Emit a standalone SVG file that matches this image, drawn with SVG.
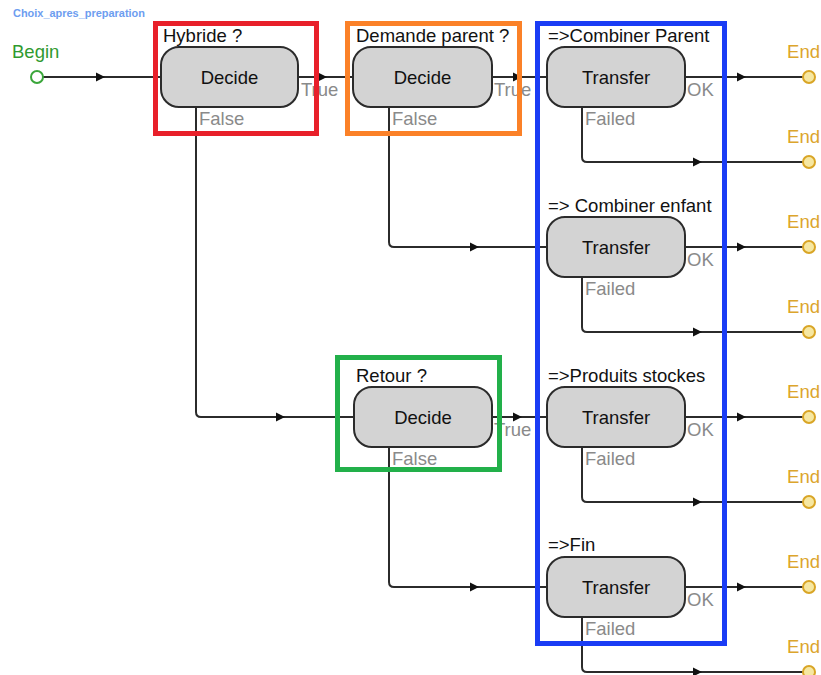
<svg xmlns="http://www.w3.org/2000/svg" width="821" height="675" viewBox="0 0 821 675">
<style>
text{font-family:"Liberation Sans",Arial,sans-serif}
.node{fill:#d3d3d3;stroke:#2b2b2b;stroke-width:2}
.nt{font-size:18.5px;fill:#111;text-anchor:middle}
.cap{font-size:18.5px;fill:#111}
.lbl{font-size:18.5px;fill:#8a8a8a}
.wire{fill:none;stroke:#2b2b2b;stroke-width:2}
.endc{fill:#f6e7a2;stroke:#d9a526;stroke-width:2}
.endt{font-size:18.5px;fill:#dca52c;text-anchor:end}
.box{fill:none;stroke-width:5}
</style>
<defs>
<path id="ah" d="M-9,-4.5 L0,0 L-9,4.5 z" fill="#111"/>
</defs>
<rect width="821" height="675" fill="#fff"/>
<text x="13" y="17" font-size="10.5" font-weight="bold" fill="#6d9df0" textLength="132" lengthAdjust="spacingAndGlyphs">Choix_apres_preparation</text>

<g id="connectors">
<path class="wire" d="M43,77 H161"/>
<path class="wire" d="M298,77 H353"/>
<path class="wire" d="M492,77 H547"/>
<path class="wire" d="M685,77 H803"/>
<path class="wire" d="M582,107 V157 Q582,162 587,162 H803"/>
<path class="wire" d="M389,107 V242 Q389,247 394,247 H547"/>
<path class="wire" d="M685,247 H803"/>
<path class="wire" d="M582,277 V327 Q582,332 587,332 H803"/>
<path class="wire" d="M196,107 V412 Q196,417 201,417 H354"/>
<path class="wire" d="M492,417 H547"/>
<path class="wire" d="M685,417 H803"/>
<path class="wire" d="M582,447 V497 Q582,502 587,502 H803"/>
<path class="wire" d="M389,447 V582 Q389,587 394,587 H547"/>
<path class="wire" d="M685,587 H803"/>
<path class="wire" d="M582,617 V667 Q582,672 587,672 H803"/>
<use href="#ah" x="105" y="77"/>
<use href="#ah" x="327" y="77"/>
<use href="#ah" x="522" y="77"/>
<use href="#ah" x="746" y="77"/>
<use href="#ah" x="702" y="162"/>
<use href="#ah" x="479" y="247"/>
<use href="#ah" x="746" y="247"/>
<use href="#ah" x="702" y="332"/>
<use href="#ah" x="285" y="417"/>
<use href="#ah" x="522" y="417"/>
<use href="#ah" x="746" y="417"/>
<use href="#ah" x="702" y="502"/>
<use href="#ah" x="479" y="587"/>
<use href="#ah" x="746" y="587"/>
<use href="#ah" x="702" y="672"/>
</g>

<g id="begin">
<text x="12" y="58" font-size="18.5" fill="#2f9a2f">Begin</text>
<circle cx="37" cy="77" r="6" fill="#fff" stroke="#3aa63a" stroke-width="2"/>
</g>

<g id="decide-hybride">
<text class="cap" x="163" y="42">Hybride ?</text>
<rect class="node" x="161" y="47" width="137" height="60" rx="18"/>
<text class="nt" x="229.5" y="84">Decide</text>
<text class="lbl" x="301" y="96">True</text>
<text class="lbl" x="199" y="125">False</text>
</g>

<g id="decide-demande">
<text class="cap" x="356" y="42">Demande parent ?</text>
<rect class="node" x="353" y="47" width="139" height="60" rx="18"/>
<text class="nt" x="422.5" y="84">Decide</text>
<text class="lbl" x="494" y="96">True</text>
<text class="lbl" x="392" y="125">False</text>
</g>

<g id="decide-retour">
<text class="cap" x="356" y="382">Retour ?</text>
<rect class="node" x="354" y="387" width="138" height="60" rx="18"/>
<text class="nt" x="423" y="424">Decide</text>
<text class="lbl" x="494" y="436">True</text>
<text class="lbl" x="392" y="465">False</text>
</g>

<g id="transfer-parent">
<text class="cap" x="548" y="42">=&gt;Combiner Parent</text>
<rect class="node" x="547" y="47" width="138" height="60" rx="18"/>
<text class="nt" x="616" y="84">Transfer</text>
<text class="lbl" x="687" y="96">OK</text>
<text class="lbl" x="585" y="125">Failed</text>
</g>

<g id="transfer-enfant">
<text class="cap" x="548" y="212">=&gt; Combiner enfant</text>
<rect class="node" x="547" y="217" width="138" height="60" rx="18"/>
<text class="nt" x="616" y="254">Transfer</text>
<text class="lbl" x="687" y="266">OK</text>
<text class="lbl" x="585" y="295">Failed</text>
</g>

<g id="transfer-produits">
<text class="cap" x="548" y="382">=&gt;Produits stockes</text>
<rect class="node" x="547" y="387" width="138" height="60" rx="18"/>
<text class="nt" x="616" y="424">Transfer</text>
<text class="lbl" x="687" y="436">OK</text>
<text class="lbl" x="585" y="465">Failed</text>
</g>

<g id="transfer-fin">
<text class="cap" x="548" y="551">=&gt;Fin</text>
<rect class="node" x="547" y="557" width="138" height="60" rx="18"/>
<text class="nt" x="616" y="594">Transfer</text>
<text class="lbl" x="687" y="606">OK</text>
<text class="lbl" x="585" y="635">Failed</text>
</g>

<g id="end1"><text class="endt" x="820" y="58">End</text><circle class="endc" cx="809" cy="77" r="6"/></g>
<g id="end2"><text class="endt" x="820" y="143">End</text><circle class="endc" cx="809" cy="162" r="6"/></g>
<g id="end3"><text class="endt" x="820" y="228">End</text><circle class="endc" cx="809" cy="247" r="6"/></g>
<g id="end4"><text class="endt" x="820" y="313">End</text><circle class="endc" cx="809" cy="332" r="6"/></g>
<g id="end5"><text class="endt" x="820" y="398">End</text><circle class="endc" cx="809" cy="417" r="6"/></g>
<g id="end6"><text class="endt" x="820" y="483">End</text><circle class="endc" cx="809" cy="502" r="6"/></g>
<g id="end7"><text class="endt" x="820" y="568">End</text><circle class="endc" cx="809" cy="587" r="6"/></g>
<g id="end8"><text class="endt" x="820" y="653">End</text><circle class="endc" cx="809" cy="672" r="6"/></g>

<g id="highlights">
<rect class="box" x="155.5" y="23.5" width="161" height="110" stroke="#e8202a"/>
<rect class="box" x="347.5" y="23.5" width="172" height="110" stroke="#fb8128"/>
<rect class="box" x="537.5" y="23.5" width="187" height="620" stroke="#1a3cf5"/>
<rect class="box" x="337.5" y="357.5" width="162" height="112" stroke="#22b04a"/>
</g>
</svg>
